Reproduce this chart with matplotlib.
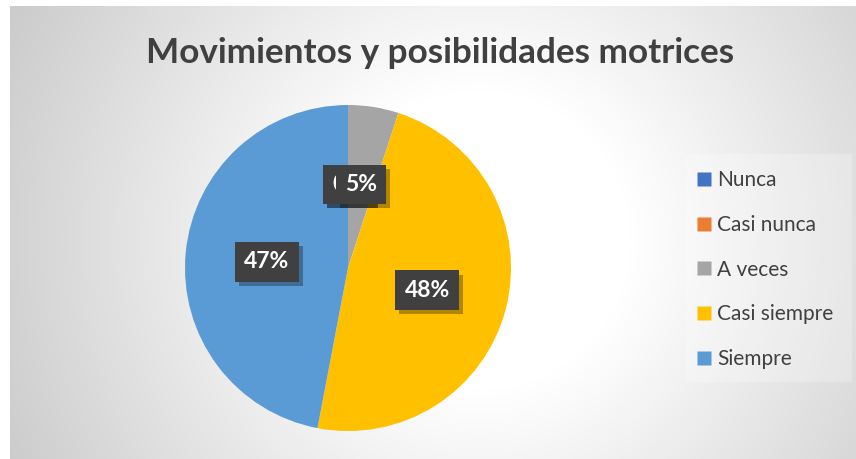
import matplotlib.pyplot as plt
import matplotlib.patheffects as pe
from matplotlib.lines import Line2D
from matplotlib.patches import Rectangle
import numpy as np

# datos del grafico
categorias = ['Nunca', 'Casi nunca', 'A veces', 'Casi siempre', 'Siempre']
porcentajes = [0, 0, 5, 48, 47]
colores = ['#4472C4', '#ED7D31', '#A5A5A5', '#FFC000', '#5B9BD5']
titulo = 'Movimientos y posibilidades motrices'

W, H = 856, 459
fig = plt.figure(figsize=(W / 100, H / 100), dpi=100, facecolor='white')

# fondo con degradado radial
bg = fig.add_axes([10 / W, 0, (W - 10) / W, (H - 6) / H])
yy, xx = np.mgrid[6:H, 10:W]
d = np.hypot(xx - 480, yy - 240)
g = np.clip(255 - 0.138 * np.clip(d - 150, 0, None), 0, 255) / 255
bg.imshow(np.dstack([g, g, g]), aspect='auto', extent=[0, 1, 0, 1])
bg.set_axis_off()

# titulo
fig.text(440 / W, 1 - 53 / H, titulo, ha='center', va='center',
         fontsize=25.3, fontweight='bold', color='#404040', family='Lato')

# torta
cx, cy, r = 348, 268, 163
ax = fig.add_axes([(cx - r) / W, (H - cy - r) / H, 2 * r / W, 2 * r / H])
ax.pie(porcentajes, colors=colores, startangle=90, counterclock=False,
       radius=1, wedgeprops=dict(linewidth=0))
ax.set_xlim(-1, 1)
ax.set_ylim(-1, 1)
ax.set_axis_off()

# etiquetas de datos
pos_etiquetas = [(0.003, 0.512), (0.003, 0.512), (0.08, 0.512), (0.485, -0.135), (-0.497, 0.037)]
for (x, y), p in zip(pos_etiquetas, porcentajes):
    t = ax.text(x, y, f'{p}%', ha='center', va='center', fontsize=16.5,
                fontweight='bold', color='white', family='Lato',
                bbox=dict(boxstyle='square,pad=0.4', facecolor='#404040', edgecolor='none'))
    t.get_bbox_patch().set_path_effects([
        pe.SimplePatchShadow(offset=(3, -3), shadow_rgbFace='black', alpha=0.3),
        pe.Normal()])

# leyenda
fig.patches.append(Rectangle((686 / W, 1 - 382 / H), 166 / W, 228 / H,
                             transform=fig.transFigure, facecolor='white',
                             alpha=0.25, edgecolor='none'))
handles = [Line2D([], [], marker='s', linestyle='none', markersize=10,
                  markerfacecolor=c, markeredgecolor='none') for c in colores]
leg = fig.legend(handles, categorias, loc='upper left',
                 bbox_to_anchor=(696 / W, 1 - 170 / H), frameon=False,
                 borderpad=0, borderaxespad=0,
                 handlelength=0.8, handletextpad=0.2, labelspacing=1.19,
                 prop=dict(family='Lato', size=15))
for t in leg.get_texts():
    t.set_color('#404040')

fig.savefig('out.png', dpi=100, facecolor='white')
